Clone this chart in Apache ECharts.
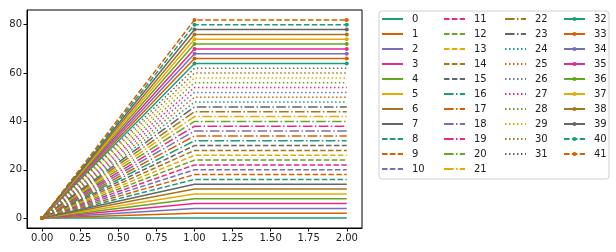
<!DOCTYPE html>
<html><head><meta charset="utf-8">
<script src="https://cdn.jsdelivr.net/npm/echarts@6/dist/echarts.min.js"></script>
<style>html,body{margin:0;padding:0;background:#fff}#c{width:616px;height:252px}</style>
</head><body><div id="c"></div>
<script>
const xValues = [0, 1, 2];
const seriesNames = ["0","1","2","3","4","5","6","7","8","9","10","11","12","13","14","15","16","17","18","19","20","21","22","23","24","25","26","27","28","29","30","31","32","33","34","35","36","37","38","39","40","41"];
const plateauValues = [0,2,4,6,8,10,12,14,16,18,20,22,24,26,28,30,32,34,36,38,40,42,44,46,48,50,52,54,56,58,60,62,64,66,68,70,72,74,76,78,80,82];
const xTicks = [0, 0.25, 0.5, 0.75, 1, 1.25, 1.5, 1.75, 2];
const yTicks = [0, 20, 40, 60, 80];

const palette = ['#1b9e77','#d95f02','#7570b3','#e7298a','#66a61e','#e6ab02','#a6761d','#666666'];
const dashStyles = {
  solid: 'solid',
  dashed: [5.5, 2.4],
  dashdot: [9.6, 2.4, 1.5, 2.4],
  dotted: [1.5, 2.5]
};
function styleFor(i){
  if (i < 8) return {type: dashStyles.solid, marker: false};
  if (i < 16) return {type: dashStyles.dashed, marker: false};
  if (i < 24) return {type: dashStyles.dashdot, marker: false};
  if (i < 32) return {type: dashStyles.dotted, marker: false};
  if (i < 40) return {type: dashStyles.solid, marker: true};
  return {type: dashStyles.dashed, marker: true};
}
const series = seriesNames.map((name, i) => {
  const st = styleFor(i);
  const c = palette[i % 8];
  const v = plateauValues[i];
  return {
    name: name, type: 'line',
    data: [[xValues[0], 0], [xValues[1], v], [xValues[2], v]],
    symbol: st.marker ? 'circle' : 'none',
    symbolSize: 4,
    showSymbol: st.marker,
    lineStyle: {color: c, width: 1.5, type: st.type, cap: 'butt'},
    itemStyle: {color: c},
    emphasis: {disabled: true},
    silent: true,
    z: 2
  };
});
const colLefts = [381, 443, 504, 563];
const colRanges = [[0,11],[11,22],[22,32],[32,42]];
const legends = colRanges.map((r, k) => ({
  data: seriesNames.slice(r[0], r[1]).map((n, j) => {
    const idx = r[0] + j;
    return styleFor(idx).marker ? {name: n} : {name: n, itemStyle: {opacity: 0}};
  }),
  orient: 'vertical',
  left: colLefts[k], top: 14,
  padding: 0,
  itemWidth: 21, itemHeight: 5, itemGap: 5,
  selectedMode: false,
  textStyle: {fontFamily: 'DejaVu Sans', fontSize: 10, color: '#222', lineHeight: 10, padding: [0,0,0,4]}
}));
const chart = echarts.init(document.getElementById('c'), null, {renderer: 'canvas'});
chart.setOption({
  animation: false,
  backgroundColor: '#fff',
  grid: {left: 27, right: 254, top: 10, bottom: 24, show: true, borderColor: '#000', borderWidth: 1, backgroundColor: 'transparent'},
  xAxis: {
    type: 'value', min: -0.1, max: 2.1,
    axisLine: {show: true, onZero: false, lineStyle: {color: '#000', width: 1}},
    axisTick: {show: true, length: 3.5, customValues: xTicks, lineStyle: {color: '#000'}},
    axisLabel: {customValues: xTicks, formatter: v => v.toFixed(2), fontFamily: 'DejaVu Sans', fontSize: 10, color: '#222', margin: 5},
    splitLine: {show: false}
  },
  yAxis: {
    type: 'value', min: -4.1, max: 86.1,
    axisLine: {show: true, onZero: false, lineStyle: {color: '#000', width: 1}},
    axisTick: {show: true, length: 3.5, customValues: yTicks, lineStyle: {color: '#000'}},
    axisLabel: {customValues: yTicks, formatter: v => String(Math.round(v)), fontFamily: 'DejaVu Sans', fontSize: 10, color: '#222', margin: 5},
    splitLine: {show: false}
  },
  legend: legends,
  graphic: [{
    type: 'rect', left: 378.5, top: 10.5, z: -1,
    shape: {width: 230, height: 168, r: 3},
    style: {fill: '#fff', stroke: '#d0d0d0', lineWidth: 1}
  }],
  series: series
});
</script></body></html>
